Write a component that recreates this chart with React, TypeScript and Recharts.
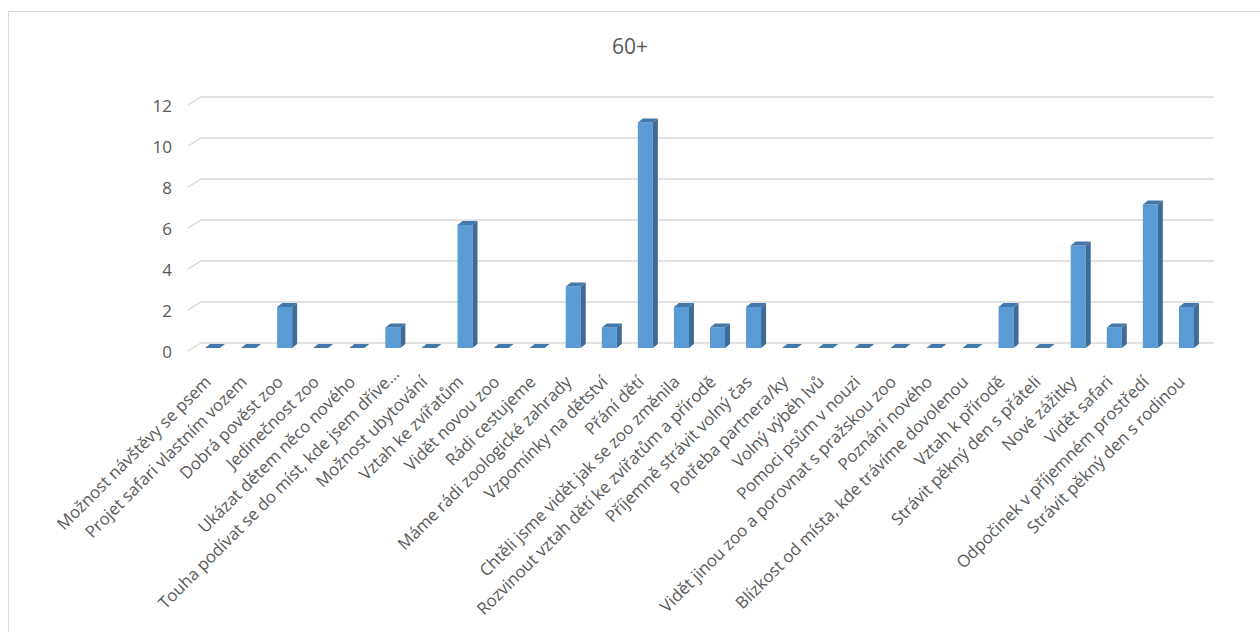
import { BarChart, Bar, XAxis, YAxis, CartesianGrid } from "recharts";

const categories = [
  "Možnost návštěvy se psem",
  "Projet safari vlastním vozem",
  "Dobrá pověst zoo",
  "Jedinečnost zoo",
  "Ukázat dětem něco nového",
  "Touha podívat se do míst, kde jsem dříve...",
  "Možnost ubytování",
  "Vztah ke zvířatům",
  "Vidět novou zoo",
  "Rádi cestujeme",
  "Máme rádi zoologické zahrady",
  "Vzpomínky na dětství",
  "Přání dětí",
  "Chtěli jsme vidět jak se zoo změnila",
  "Rozvinout vztah dětí ke zvířatům a přírodě",
  "Příjemně strávit volný čas",
  "Potřeba partnera/ky",
  "Volný výběh lvů",
  "Pomoci psům v nouzi",
  "Vidět jinou zoo a porovnat s pražskou zoo",
  "Poznání nového",
  "Blízkost od místa, kde trávíme dovolenou",
  "Vztah k přírodě",
  "Strávit pěkný den s přáteli",
  "Nové zážitky",
  "Vidět safari",
  "Odpočinek v příjemném prostředí",
  "Strávit pěkný den s rodinou",
];

const counts = [0, 0, 2, 0, 0, 1, 0, 6, 0, 0, 3, 1, 11, 2, 1, 2, 0, 0, 0, 0, 0, 0, 2, 0, 5, 1, 7, 2];

const yTicks = [0, 2, 4, 6, 8, 10, 12];

const data = categories.map((name, i) => ({ name, value: counts[i] }));

const FONT = "'Open Sans', sans-serif";
const TEXT = "#595959";

// pseudo-3D column like Excel
const Column3D = (props: any) => {
  const { x, y, width, height } = props;
  const d = 5;
  const up = 4;
  const fw = width - d;
  const bottom = y + height;
  return (
    <g>
      {height > 0 && <rect x={x} y={y} width={fw} height={height} fill="#5B9BD5" />}
      {height > 0 && (
        <polygon
          points={`${x + fw},${y} ${x + width},${y - up} ${x + width},${bottom - up} ${x + fw},${bottom}`}
          fill="#3E6C99"
        />
      )}
      <polygon
        points={`${x},${y} ${x + fw},${y} ${x + width},${y - up} ${x + d},${y - up}`}
        fill="#4578AA"
      />
    </g>
  );
};

const gridLine = (props: any) => {
  const { x1, x2, y1 } = props;
  return (
    <path
      key={`g-${y1}`}
      d={`M${x1 - 9},${y1 + 3} L${x1 + 4},${y1 - 5} L${x2 + 7},${y1 - 5}`}
      stroke="#D9D9D9"
      strokeWidth={1.4}
      fill="none"
    />
  );
};

const XTick = (props: any) => {
  const { x, y, payload } = props;
  // Excel nudges the truncated label a little further along
  const nudge = String(payload.value).endsWith("...") ? 8 : 0;
  const bx = x - 3 + nudge;
  const by = y + 27 - nudge;
  return (
    <text
      x={bx}
      y={by}
      transform={`rotate(-45 ${bx} ${by})`}
      textAnchor="end"
      fill={TEXT}
      fontSize={16.8}
      fontFamily={FONT}
    >
      {payload.value}
    </text>
  );
};

const YTick = (props: any) => {
  const { y, payload } = props;
  return (
    <text
      x={172}
      y={y + 3}
      textAnchor="end"
      dominantBaseline="central"
      fill={TEXT}
      fontSize={17}
      fontFamily={FONT}
    >
      {payload.value}
    </text>
  );
};

export default function App() {
  return (
    <div
      style={{
        position: "fixed",
        left: 0,
        top: 0,
        width: 1260,
        height: 632,
        overflow: "hidden",
        background: "#fff",
      }}
    >
      <div
        style={{
          position: "absolute",
          left: 8,
          top: 11,
          width: 1300,
          height: 700,
          borderLeft: "1px solid #D9D9D9",
          borderTop: "1px solid #D9D9D9",
        }}
      />
      <div
        style={{
          position: "absolute",
          left: 0,
          top: 32,
          width: 1260,
          textAlign: "center",
          fontFamily: FONT,
          fontSize: 21,
          color: TEXT,
        }}
      >
        60+
      </div>
      <div style={{ position: "absolute", left: 0, top: 0 }}>
        <BarChart
          width={1260}
          height={632}
          data={data}
          margin={{ top: 102, right: 53, bottom: 0, left: 0 }}
          barSize={20}
        >
          <CartesianGrid vertical={false} horizontal={gridLine} />
          <XAxis
            dataKey="name"
            interval={0}
            axisLine={false}
            tickLine={false}
            height={284}
            tick={<XTick />}
          />
          <YAxis
            domain={[0, 12]}
            ticks={yTicks}
            axisLine={false}
            tickLine={false}
            width={197}
            tick={<YTick />}
          />
          <Bar dataKey="value" shape={<Column3D />} isAnimationActive={false} />
        </BarChart>
      </div>
    </div>
  );
}
